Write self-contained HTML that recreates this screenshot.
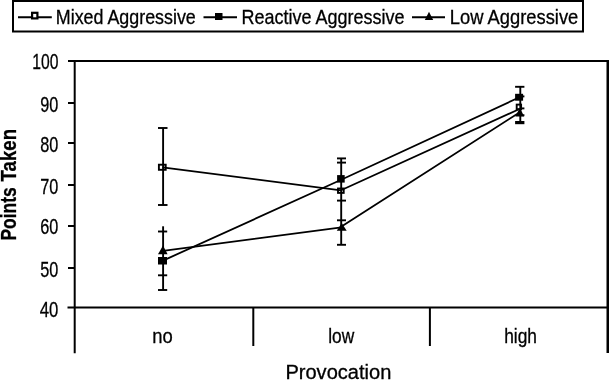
<!DOCTYPE html>
<html>
<head>
<meta charset="utf-8">
<title>Provocation chart</title>
<style>
html,body{margin:0;padding:0;background:#fff;}
svg{display:block;will-change:transform;}
text{font-family:"Liberation Sans",Arial,sans-serif;fill:#000;stroke:#000;stroke-width:0.3px;}
</style>
</head>
<body>
<svg width="609" height="381" viewBox="0 0 609 381">
<rect x="0" y="0" width="609" height="381" fill="#fff"/>

<!-- legend box -->
<rect x="13" y="1" width="570" height="30.5" fill="#fff" stroke="#000" stroke-width="2"/>
<!-- legend item 1 -->
<line x1="18" y1="17.2" x2="51.8" y2="17.2" stroke="#000" stroke-width="2"/>
<rect x="32.1" y="12.8" width="5.3" height="5.6" fill="#fff" stroke="#000" stroke-width="2.2"/>
<text x="55.8" y="23.7" font-size="20.4" textLength="140" lengthAdjust="spacingAndGlyphs">Mixed Aggressive</text>
<!-- legend item 2 -->
<line x1="203.5" y1="17.2" x2="237" y2="17.2" stroke="#000" stroke-width="2"/>
<rect x="215" y="13" width="7.5" height="7" fill="#000"/>
<text x="241.6" y="23.7" font-size="20.4" textLength="163" lengthAdjust="spacingAndGlyphs">Reactive Aggressive</text>
<!-- legend item 3 -->
<line x1="412" y1="17.2" x2="445" y2="17.2" stroke="#000" stroke-width="2"/>
<polygon points="429,11.8 433.2,20 424.8,20" fill="#000"/>
<text x="449.8" y="23.7" font-size="20.4" textLength="128.5" lengthAdjust="spacingAndGlyphs">Low Aggressive</text>

<!-- plot frame -->
<line x1="68" y1="61" x2="609" y2="61" stroke="#000" stroke-width="2"/>
<line x1="74.7" y1="60" x2="74.7" y2="353.2" stroke="#000" stroke-width="2"/>
<line x1="608" y1="60" x2="608" y2="353" stroke="#000" stroke-width="3"/>
<line x1="67.5" y1="307.4" x2="609" y2="307.4" stroke="#000" stroke-width="2"/>
<line x1="253.3" y1="307" x2="253.3" y2="346" stroke="#000" stroke-width="2"/>
<line x1="429.9" y1="307" x2="429.9" y2="346" stroke="#000" stroke-width="2"/>
<!-- y ticks -->
<g stroke="#000" stroke-width="2">
<line x1="68" y1="103" x2="75" y2="103"/>
<line x1="68" y1="143" x2="75" y2="143"/>
<line x1="68" y1="185" x2="75" y2="185"/>
<line x1="68" y1="226" x2="75" y2="226"/>
<line x1="68" y1="268" x2="75" y2="268"/>
</g>
<!-- y labels -->
<g font-size="21.2">
<text x="32.2" y="69" textLength="26.2" lengthAdjust="spacingAndGlyphs">100</text>
<text x="40.2" y="111.5" textLength="18.1" lengthAdjust="spacingAndGlyphs">90</text>
<text x="40.2" y="152" textLength="18.1" lengthAdjust="spacingAndGlyphs">80</text>
<text x="40.2" y="193.5" textLength="18.1" lengthAdjust="spacingAndGlyphs">70</text>
<text x="40.2" y="234" textLength="18.1" lengthAdjust="spacingAndGlyphs">60</text>
<text x="40.2" y="276.5" textLength="18.1" lengthAdjust="spacingAndGlyphs">50</text>
<text x="39.7" y="317" textLength="18.6" lengthAdjust="spacingAndGlyphs">40</text>
</g>
<!-- category labels -->
<g font-size="20.4">
<text x="152.3" y="342.8" textLength="20.5" lengthAdjust="spacingAndGlyphs">no</text>
<text x="328.2" y="343" textLength="26" lengthAdjust="spacingAndGlyphs">low</text>
<text x="504.2" y="342.8" textLength="32.8" lengthAdjust="spacingAndGlyphs">high</text>
</g>
<!-- axis titles -->
<text x="285.4" y="379.4" font-size="19.4" textLength="106" lengthAdjust="spacingAndGlyphs">Provocation</text>
<text transform="translate(16 240.6) rotate(-90)" font-size="21.6" font-weight="bold" stroke="#000" stroke-width="0.45" textLength="53.3" lengthAdjust="spacingAndGlyphs">Points</text>
<text transform="translate(16 181.4) rotate(-90)" font-size="21.6" font-weight="bold" stroke="#000" stroke-width="0.45" textLength="52.4" lengthAdjust="spacingAndGlyphs">Taken</text>

<!-- error bars -->
<g stroke="#000" stroke-width="1.9" fill="none">
<!-- no: mixed -->
<line x1="163.1" y1="128" x2="163.1" y2="205"/>
<line x1="158" y1="128" x2="167.5" y2="128"/>
<line x1="158" y1="205" x2="167.5" y2="205"/>
<!-- no: reactive + low -->
<line x1="163.1" y1="226.3" x2="163.1" y2="290"/>
<line x1="158" y1="231.5" x2="167.2" y2="231.5"/>
<line x1="158" y1="275.3" x2="167.2" y2="275.3"/>
<line x1="158" y1="290" x2="167.2" y2="290"/>
<!-- low -->
<line x1="341.2" y1="158.4" x2="341.2" y2="244.8"/>
<line x1="337" y1="158.4" x2="346" y2="158.4"/>
<line x1="337" y1="162.6" x2="346" y2="162.6"/>
<line x1="337" y1="200.6" x2="346" y2="200.6"/>
<line x1="337" y1="220.3" x2="346" y2="220.3"/>
<line x1="337" y1="244.8" x2="346" y2="244.8"/>
<!-- high -->
<line x1="520.3" y1="86.8" x2="520.3" y2="122.5"/>
<line x1="515.1" y1="86.8" x2="524.4" y2="86.8"/>
<line x1="520" y1="96.4" x2="524.4" y2="96.4"/>
<line x1="520" y1="108.4" x2="524.4" y2="108.4"/>
<line x1="520" y1="115.2" x2="524.4" y2="115.2"/>
<line x1="515.1" y1="122.6" x2="524.4" y2="122.6" stroke-width="3.2"/>
</g>

<!-- series lines -->
<g stroke="#000" stroke-width="1.8" fill="none" stroke-linejoin="round">
<polyline points="162.5,167.4 341,190.3 519.5,109"/>
<polyline points="163,260.6 341.2,179.8 519,97.5"/>
<polyline points="163,250.8 341.5,227.3 341.5,226.4 519.5,112.4"/>
</g>

<!-- markers: mixed (hollow squares) -->
<g fill="none" stroke="#000" stroke-width="1.9">
<rect x="158.9" y="164.7" width="6.8" height="5.1"/>
<rect x="338" y="188.5" width="5.7" height="4.4"/>
<rect x="516.7" y="104.6" width="4.4" height="4.6"/>
</g>
<!-- markers: reactive (filled squares) -->
<g fill="#000">
<rect x="158" y="257" width="9" height="7.5"/>
<rect x="337.1" y="175.1" width="7.6" height="7.5"/>
<rect x="515.1" y="93.8" width="8" height="6.9"/>
</g>
<!-- markers: low (triangles) -->
<g fill="#000">
<polygon points="163,245.5 167.6,254.2 158,254.2"/>
<polygon points="341.7,223 346.7,230.8 336.8,230.8"/>
<polygon points="519.8,107.8 524.2,116.6 515.4,116.6"/>
</g>
</svg>
</body>
</html>
